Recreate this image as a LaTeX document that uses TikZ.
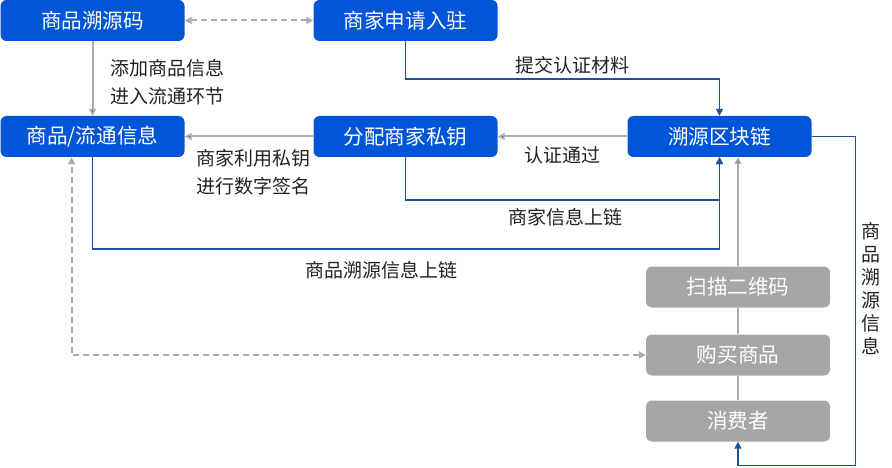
\documentclass[tikz,border=0pt]{standalone}
\usepackage{fontspec}
\newfontfamily\cjk{Noto Sans CJK SC}
\usetikzlibrary{arrows.meta,positioning}
\definecolor{boxblue}{RGB}{0,86,214}
\definecolor{boxgrey}{RGB}{166,166,166}
\definecolor{lineblue}{RGB}{30,82,155}
\definecolor{linegrey}{RGB}{172,172,172}
\definecolor{lbltext}{RGB}{34,34,34}
\tikzstyle{bluebox} = [rectangle, rounded corners = 6pt, fill = boxblue, text = white, minimum width = 184pt, minimum height = 41pt, inner sep = 0pt, font = \cjk\fontsize{20.6}{20.6}\selectfont]
\tikzstyle{greybox} = [bluebox, fill = boxgrey]
\tikzstyle{lbl} = [text = lbltext, inner sep = 0pt, align = left, font = \cjk\fontsize{19}{28}\selectfont]
\tikzstyle{blueline} = [draw = lineblue, line width = 1.5pt, -{Triangle[length = 7pt, width = 7pt]}]
\tikzstyle{greyline} = [draw = linegrey, line width = 2pt, -{Triangle[length = 7pt, width = 7pt]}]
\tikzstyle{greydash} = [greyline, dash pattern = on 6pt off 4pt, {Triangle[length = 7pt, width = 7pt]}-{Triangle[length = 7pt, width = 7pt]}]
\begin{document}
\begin{tikzpicture}[x = 1pt, y = -1pt, node distance = 313pt]
			\useasboundingbox (0,0) rectangle (892,468);
			\node[bluebox] (code) at (92.5,20.5) {商品溯源码};
			\node[bluebox, right of = code] (apply) {商家申请入驻};
			\node[bluebox, below of = code, node distance = 116pt] (info) {商品/流通信息};
			\node[bluebox, right of = info] (key) {分配商家私钥};
			\node[bluebox, right of = key, node distance = 314pt] (chain) {溯源区块链};
			\node[greybox] (scan) at (738,287) {扫描二维码};
			\node[greybox, below of = scan, node distance = 68pt] (buy) {购买商品};
			\node[greybox, below of = buy, node distance = 66pt] (user) {消费者};
			\node[lbl, anchor = west] (addinfo) at (110,82) {添加商品信息\\进入流通环节};
			\node[lbl] (submit) at (572,65) {提交认证材料};
			\node[lbl] (pass) at (562,155) {认证通过};
			\node[lbl, anchor = west] (sign) at (196,172) {商家利用私钥\\进行数字签名};
			\node[lbl] (merchant) at (565,217) {商家信息上链};
			\node[lbl] (goods) at (381,270) {商品溯源信息上链};
			\node[lbl, align = center, font = \cjk\fontsize{19}{23}\selectfont] (trace) at (871,289) {商\\品\\溯\\源\\信\\息};
			\path[greyline]
			(code) edge[greydash] (apply)
			(code) edge (info)
			(chain) edge (key)
			(key) edge (info)
			(scan.north) edge (scan.north |- chain.south)
			(scan) edge[-] (buy)
			(buy) edge[-] (user);
			\draw[greydash] (buy.west) -| ([xshift = -21pt]info.south);
			\draw[blueline] (apply.south) -- ++(0,38) -| (chain.north);
			\draw[blueline] (key.south) -- ++(0,43) -| (chain.south);
			\draw[blueline] (info.south) -- ++(0,92) -| (chain.south);
			\draw[blueline] (chain.east) -- ++(44,0) -- ++(0,329) -| (user.south);
		\end{tikzpicture}
\end{document}
